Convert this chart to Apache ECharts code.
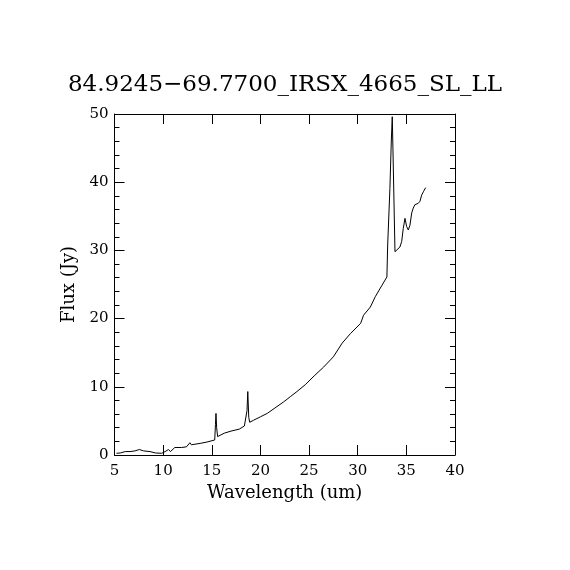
<!DOCTYPE html>
<html>
<head>
<meta charset="utf-8">
<script src="https://cdn.jsdelivr.net/npm/echarts@6/dist/echarts.min.js"></script>
<style>
html,body{margin:0;padding:0;background:#fff;}
#chart{width:570px;height:570px;}
</style>
</head>
<body>
<div id="chart"></div>
<script>
const titleText = "84.9245\u221269.7700_IRSX_4665_SL_LL";
const xName = "Wavelength (um)";
const yName = "Flux (Jy)";
const wavelength = [5.2, 5.6, 6.1, 6.6, 7.1, 7.55, 8.0, 8.65, 9.2, 9.85, 10.2, 10.55, 10.75, 11.2, 11.9, 12.4, 12.75, 12.9, 13.1, 13.8, 14.5, 15.3, 15.38, 15.43, 15.5, 15.6, 15.77, 16.28, 16.97, 17.83, 18.35, 18.5, 18.62, 18.7, 18.8, 18.9, 19.3, 20.0, 20.7, 21.7, 22.4, 23.07, 23.75, 24.6, 25.6, 26.5, 27.5, 28.4, 29.25, 30.3, 30.6, 31.3, 31.8, 32.5, 33.0, 33.08, 33.31, 33.45, 33.55, 33.62, 33.83, 34.34, 34.52, 34.68, 34.86, 35.03, 35.2, 35.37, 35.55, 35.71, 35.88, 36.22, 36.4, 36.57, 36.75, 36.98];
const flux = [0.25, 0.3, 0.5, 0.5, 0.6, 0.8, 0.6, 0.5, 0.3, 0.25, 0.5, 0.8, 0.5, 1.1, 1.1, 1.2, 1.8, 1.5, 1.6, 1.7, 1.9, 2.2, 4.5, 6.1, 4.0, 2.7, 2.6, 3.2, 3.5, 3.8, 4.25, 4.4, 6.5, 9.3, 5.5, 4.8, 5.1, 5.6, 6.1, 7.1, 7.8, 8.55, 9.3, 10.3, 11.7, 12.9, 14.4, 16.4, 17.8, 19.3, 20.5, 21.7, 23.2, 24.9, 26.1, 30.8, 39.1, 45.9, 49.6, 45.0, 29.8, 30.5, 31.3, 33.2, 34.7, 33.5, 33.0, 33.7, 35.5, 36.2, 36.7, 36.9, 37.2, 38.1, 38.6, 39.2];

const FONT = "DejaVu Serif";
const chart = echarts.init(document.getElementById('chart'), null, {renderer: 'canvas'});
const axisCommon = {
  axisLine: {show: true, onZero: false, lineStyle: {color: '#000', width: 1}},
  splitLine: {show: false}
};
chart.setOption({
  backgroundColor: '#fff',
  animation: false,
  title: {
    text: titleText, left: 'center', top: 69,
    textStyle: {fontFamily: FONT, fontWeight: 'normal', fontSize: 23, color: '#000'}
  },
  grid: {left: 114.5, right: 115, top: 114, bottom: 115, containLabel: false},
  xAxis: [
    Object.assign({}, axisCommon, {
      type: 'value', min: 5, max: 40, interval: 5, position: 'bottom',
      name: xName, nameLocation: 'middle', nameGap: 29,
      nameTextStyle: {fontFamily: FONT, fontSize: 18, color: '#000'},
      axisTick: {show: true, inside: true, length: 10, lineStyle: {color: '#000'}},
      axisLabel: {fontFamily: FONT, fontSize: 15, color: '#000', margin: 9}
    }),
    Object.assign({}, axisCommon, {
      type: 'value', min: 5, max: 40, interval: 5, position: 'top',
      axisTick: {show: true, inside: true, length: 10, lineStyle: {color: '#000'}},
      axisLabel: {show: false}
    })
  ],
  yAxis: [
    Object.assign({}, axisCommon, {
      type: 'value', min: 0, max: 50, interval: 10, position: 'left',
      name: yName, nameLocation: 'middle', nameGap: 36, nameRotate: 90,
      nameTextStyle: {fontFamily: FONT, fontSize: 18, color: '#000'},
      axisTick: {show: true, inside: true, length: 10, lineStyle: {color: '#000'}},
      minorTick: {show: true, splitNumber: 5, length: 5, lineStyle: {color: '#000'}},
      axisLabel: {fontFamily: FONT, fontSize: 15, color: '#000', margin: 6}
    }),
    Object.assign({}, axisCommon, {
      type: 'value', min: 0, max: 50, interval: 10, position: 'right',
      axisTick: {show: true, inside: true, length: 10, lineStyle: {color: '#000'}},
      minorTick: {show: true, splitNumber: 5, length: 5, lineStyle: {color: '#000'}},
      axisLabel: {show: false}
    })
  ],
  series: [{
    type: 'line',
    xAxisIndex: 0, yAxisIndex: 0,
    data: wavelength.map((w, i) => [w, flux[i]]),
    showSymbol: false,
    lineStyle: {color: '#000', width: 1},
    clip: true
  }]
});
</script>
</body>
</html>
